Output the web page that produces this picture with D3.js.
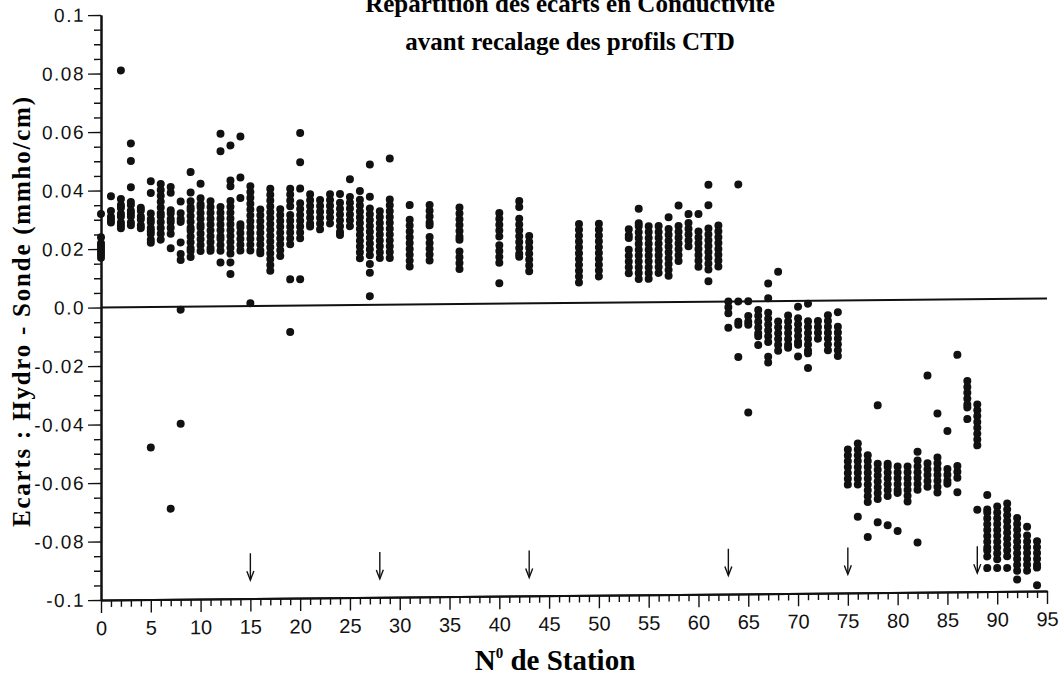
<!DOCTYPE html>
<html>
<head>
<meta charset="utf-8">
<script src="https://cdn.jsdelivr.net/npm/d3@7"></script>
<style>
  body { margin: 0; background: #fff; }
  .tick text { fill: #111; }
</style>
</head>
<body>
<div id="chart"></div>
<script>
// station numbers that have measurements
var stations = [0,1,2,3,4,5,6,7,8,9,10,11,12,13,14,15,16,17,18,19,20,21,22,23,24,25,26,27,28,29,
  31,33,36,40,42,43,48,50,53,54,55,56,57,58,59,60,61,62,63,64,65,66,67,68,69,70,71,72,73,74,
  75,76,77,78,79,80,81,82,83,84,85,86,87,88,89,90,91,92,93,94];

// ecarts hydro - sonde (mmho/cm), one list per station (same order as stations)
var ecarts = [
  [0.032,0.024,0.022,0.021,0.020,0.019,0.018,0.017],
  [0.038,0.033,0.031,0.030,0.029],
  [0.081,0.037,0.035,0.034,0.032,0.031,0.029,0.028,0.027],
  [0.056,0.050,0.041,0.036,0.035,0.033,0.032,0.031,0.029,0.028],
  [0.034,0.033,0.031,0.030,0.028,0.027],
  [0.043,0.039,0.032,0.030,0.029,0.027,0.026,0.025,0.023,0.022,-0.048],
  [0.042,0.040,0.038,0.036,0.034,0.032,0.031,0.029,0.027,0.025,0.023],
  [0.041,0.039,0.033,0.032,0.030,0.029,0.027,0.025,0.020,-0.069],
  [0.036,0.032,0.030,0.029,0.022,0.018,0.016,-0.001,-0.040],
  [0.046,0.039,0.036,0.034,0.033,0.031,0.029,0.027,0.026,0.024,0.022,0.020,0.019,0.017],
  [0.042,0.037,0.035,0.034,0.032,0.030,0.028,0.027,0.025,0.023,0.021,0.019],
  [0.036,0.034,0.032,0.030,0.028,0.026,0.024,0.022,0.020,0.019],
  [0.059,0.053,0.034,0.032,0.030,0.028,0.026,0.024,0.023,0.021,0.019,0.015],
  [0.055,0.043,0.041,0.036,0.034,0.032,0.030,0.028,0.026,0.024,0.022,0.020,0.018,0.015,0.011],
  [0.058,0.044,0.037,0.028,0.027,0.025,0.023,0.021,0.019],
  [0.041,0.039,0.037,0.035,0.033,0.031,0.029,0.027,0.025,0.023,0.021,0.019,0.001],
  [0.033,0.031,0.029,0.027,0.025,0.023,0.021,0.019,0.018],
  [0.040,0.038,0.036,0.034,0.032,0.030,0.028,0.026,0.024,0.022,0.020,0.018,0.016,0.014,0.012],
  [0.033,0.031,0.029,0.027,0.025,0.023,0.021,0.019,0.017],
  [0.040,0.038,0.036,0.034,0.031,0.029,0.027,0.025,0.023,0.021,0.009,-0.009],
  [0.059,0.049,0.040,0.035,0.033,0.031,0.029,0.027,0.025,0.023,0.009],
  [0.038,0.036,0.034,0.032,0.030,0.028,0.027],
  [0.036,0.034,0.032,0.030,0.028,0.026],
  [0.038,0.036,0.034,0.032,0.030,0.028],
  [0.038,0.035,0.033,0.031,0.029,0.027,0.025,0.024],
  [0.043,0.037,0.035,0.033,0.031,0.029,0.027],
  [0.039,0.036,0.034,0.032,0.030,0.028,0.026,0.024,0.022,0.020,0.018,0.016],
  [0.048,0.037,0.033,0.031,0.029,0.027,0.025,0.023,0.021,0.019,0.017,0.014,0.011,0.003],
  [0.032,0.030,0.028,0.026,0.024,0.022,0.020,0.018,0.016],
  [0.050,0.036,0.034,0.032,0.030,0.028,0.026,0.024,0.022,0.020,0.018,0.016],
  [0.034,0.029,0.027,0.025,0.023,0.021,0.019,0.017,0.015,0.013],
  [0.034,0.032,0.030,0.028,0.027,0.023,0.021,0.019,0.017,0.015],
  [0.033,0.031,0.029,0.027,0.025,0.023,0.022,0.018,0.016,0.014,0.012],
  [0.031,0.029,0.027,0.025,0.023,0.020,0.018,0.016,0.014,0.007],
  [0.035,0.033,0.029,0.027,0.025,0.023,0.021,0.019,0.017,0.016],
  [0.023,0.021,0.019,0.017,0.015,0.013,0.011],
  [0.027,0.025,0.023,0.021,0.019,0.017,0.015,0.013,0.011,0.009,0.007],
  [0.027,0.025,0.023,0.021,0.019,0.017,0.015,0.013,0.011,0.009],
  [0.025,0.023,0.022,0.018,0.016,0.014,0.012,0.010],
  [0.032,0.027,0.026,0.024,0.022,0.020,0.018,0.016,0.014,0.012,0.010,0.008],
  [0.026,0.024,0.022,0.020,0.018,0.016,0.014,0.012,0.010,0.008],
  [0.026,0.024,0.022,0.020,0.018,0.016,0.014,0.012,0.010],
  [0.029,0.025,0.023,0.021,0.019,0.017,0.015,0.013,0.011,0.009],
  [0.033,0.026,0.024,0.022,0.020,0.018,0.016,0.014],
  [0.030,0.027,0.025,0.023,0.021,0.019],
  [0.030,0.024,0.022,0.020,0.018,0.016,0.014,0.012],
  [0.040,0.033,0.025,0.023,0.021,0.019,0.017,0.015,0.013,0.011,0.007],
  [0.026,0.024,0.022,0.020,0.018,0.016,0.014,0.012],
  [0.000,-0.002,-0.004,-0.009],
  [0.040,0.000,-0.007,-0.008,-0.019],
  [0.000,-0.005,-0.007,-0.008,-0.038],
  [-0.003,-0.005,-0.007,-0.009,-0.011,-0.012,-0.015],
  [0.006,0.001,-0.004,-0.006,-0.008,-0.010,-0.012,-0.014,-0.019,-0.021],
  [0.010,-0.007,-0.009,-0.011,-0.013,-0.015,-0.017],
  [-0.005,-0.007,-0.009,-0.011,-0.013,-0.015,-0.016],
  [-0.002,-0.006,-0.008,-0.010,-0.012,-0.014,-0.015,-0.019],
  [-0.001,-0.007,-0.009,-0.011,-0.013,-0.015,-0.017,-0.018,-0.023],
  [-0.007,-0.009,-0.011,-0.013],
  [-0.005,-0.007,-0.009,-0.011,-0.013,-0.015,-0.017],
  [-0.004,-0.009,-0.011,-0.013,-0.015,-0.017,-0.019],
  [-0.051,-0.053,-0.055,-0.057,-0.059,-0.061,-0.063],
  [-0.049,-0.051,-0.053,-0.055,-0.057,-0.059,-0.061,-0.063,-0.074],
  [-0.053,-0.055,-0.057,-0.059,-0.061,-0.063,-0.065,-0.067,-0.069,-0.081],
  [-0.036,-0.056,-0.058,-0.060,-0.062,-0.064,-0.066,-0.068,-0.076],
  [-0.056,-0.057,-0.059,-0.061,-0.063,-0.065,-0.067,-0.077],
  [-0.057,-0.059,-0.061,-0.063,-0.065,-0.066,-0.079],
  [-0.057,-0.059,-0.061,-0.063,-0.065,-0.067,-0.069],
  [-0.052,-0.055,-0.057,-0.059,-0.061,-0.063,-0.065,-0.083],
  [-0.026,-0.056,-0.058,-0.060,-0.062,-0.064],
  [-0.039,-0.054,-0.056,-0.058,-0.060,-0.062,-0.064,-0.066],
  [-0.045,-0.058,-0.060,-0.062,-0.063],
  [-0.019,-0.057,-0.059,-0.061,-0.066],
  [-0.028,-0.030,-0.032,-0.034,-0.036,-0.037,-0.041],
  [-0.036,-0.038,-0.040,-0.042,-0.044,-0.046,-0.048,-0.050,-0.072],
  [-0.067,-0.072,-0.073,-0.075,-0.077,-0.079,-0.081,-0.083,-0.085,-0.086,-0.088,-0.092],
  [-0.071,-0.073,-0.075,-0.077,-0.079,-0.081,-0.083,-0.085,-0.087,-0.089,-0.092],
  [-0.070,-0.072,-0.074,-0.076,-0.078,-0.080,-0.082,-0.084,-0.086,-0.088,-0.092],
  [-0.075,-0.077,-0.079,-0.081,-0.083,-0.085,-0.087,-0.089,-0.091,-0.093,-0.096],
  [-0.078,-0.081,-0.083,-0.085,-0.087,-0.089,-0.091,-0.093],
  [-0.083,-0.085,-0.087,-0.089,-0.091,-0.092,-0.098]
];

// arrows marking stations along the bottom
var arrowStations = [15, 28, 43, 63, 75, 88];

// tick values + labels
var xTicks = [0,5,10,15,20,25,30,35,40,45,50,55,60,65,70,75,80,85,90,95];
var yTicks = [0.1,0.08,0.06,0.04,0.02,0,-0.02,-0.04,-0.06,-0.08,-0.1];
var yTickLabels = ['0.1','0.08','0.06','0.04','0.02','0.0','-0.02','-0.04','-0.06','-0.08','-0.1'];

var titleLines = ['Répartition des écarts en Conductivité', 'avant recalage des profils CTD'];

//set margin and sizes
var margin = {top:15, left:101};
var w = 946;
var h = 585;

var svg = d3.select('#chart')
    .append('svg')
    .attr('width', 1062)
    .attr('height', 678);

// scanned page is slightly tilted, skew the plot a little
var g = svg.append('g')
    .attr('transform', 'translate(' + margin.left + ',' + margin.top + ') skewY(-0.55)');

var x = d3.scaleLinear().domain([0, 95]).range([0, w]);
var y = d3.scaleLinear().domain([-0.1, 0.1]).range([h, 0]);

// minor ticks
var xMinor = d3.range(0, 96, 1).filter(function(d) { return d % 5 != 0; });
var yMinor = d3.range(-100, 101, 5).filter(function(d) { return d % 20 != 0; }).map(function(d) { return d / 1000; });

g.append('g')
    .attr('class', 'minor')
    .attr('transform', 'translate(0,' + h + ')')
    .call(d3.axisBottom(x).tickValues(xMinor).tickSize(7).tickSizeOuter(0).tickFormat(''));
g.append('g')
    .attr('class', 'minor')
    .call(d3.axisLeft(y).tickValues(yMinor).tickSize(7).tickSizeOuter(0).tickFormat(''));

// major axes
var xAx = g.append('g')
    .attr('id', 'x-ax')
    .attr('transform', 'translate(0,' + h + ')')
    .call(d3.axisBottom(x).tickValues(xTicks).tickSize(13).tickSizeOuter(0).tickPadding(8));
xAx.selectAll('text')
    .style('font-family', '"Liberation Sans Narrow", "Liberation Sans", Arial, sans-serif')
    .style('font-size', '20px');

var yAx = g.append('g')
    .attr('id', 'y-ax')
    .call(d3.axisLeft(y).tickValues(yTicks).tickSize(13).tickSizeOuter(0).tickPadding(3)
        .tickFormat(function(d, i) { return yTickLabels[i]; }));
yAx.selectAll('text')
    .style('font-family', '"Liberation Sans", Arial, sans-serif')
    .style('font-size', '19px')
    .style('letter-spacing', '1.5px');

g.selectAll('.domain').attr('stroke', '#111').attr('stroke-width', 2);
g.selectAll('.tick line').attr('stroke', '#111').attr('stroke-width', 1.4);

// zero line
g.append('line')
    .attr('x1', x(0)).attr('x2', x(95))
    .attr('y1', y(0)).attr('y2', y(0))
    .attr('stroke', '#111')
    .attr('stroke-width', 2);

// points
var pts = [];
stations.forEach(function(s, i) {
    ecarts[i].forEach(function(v) { pts.push({st: s, val: v}); });
});

g.selectAll('.pt')
    .data(pts)
    .enter()
    .append('circle')
        .attr('class', 'pt')
        .attr('cx', function(d) { return x(d.st); })
        .attr('cy', function(d) { return y(d.val); })
        .attr('r', 4)
        .attr('fill', '#111');

// arrows
var arr = g.selectAll('.arrow')
    .data(arrowStations)
    .enter()
    .append('g')
    .attr('class', 'arrow');
arr.append('line')
    .attr('x1', function(d) { return x(d); })
    .attr('x2', function(d) { return x(d); })
    .attr('y1', y(-0.0845))
    .attr('y2', y(-0.0935))
    .attr('stroke', '#111')
    .attr('stroke-width', 1.4);
arr.append('path')
    .attr('d', function(d) {
        var px = x(d), py = y(-0.0937);
        return 'M' + (px - 3.5) + ',' + (py - 9) + 'L' + px + ',' + py + 'L' + (px + 3.5) + ',' + (py - 9);
    })
    .attr('fill', 'none')
    .attr('stroke', '#111')
    .attr('stroke-width', 1.4);

// title
svg.selectAll('.title')
    .data(titleLines)
    .enter()
    .append('text')
    .attr('class', 'title')
    .attr('x', 570)
    .attr('y', function(d, i) { return 12 + i * 38; })
    .attr('text-anchor', 'middle')
    .style('font-family', '"Liberation Serif", "Times New Roman", serif')
    .style('font-weight', 'bold')
    .style('font-size', '25px')
    .text(function(d) { return d; });

// axis labels
svg.append('text')
    .attr('transform', 'translate(30,312) rotate(-90)')
    .attr('text-anchor', 'middle')
    .attr('textLength', 430)
    .attr('lengthAdjust', 'spacing')
    .style('font-family', '"Liberation Serif", "Times New Roman", serif')
    .style('font-weight', 'bold')
    .style('font-size', '25px')
    .text('Ecarts : Hydro - Sonde (mmho/cm)');

var xl = svg.append('text')
    .attr('x', 555)
    .attr('y', 670)
    .attr('text-anchor', 'middle')
    .style('font-family', '"Liberation Serif", "Times New Roman", serif')
    .style('font-weight', 'bold')
    .style('font-size', '29px');
xl.append('tspan').text('N');
xl.append('tspan').attr('dy', -12).style('font-size', '15px').text('0');
xl.append('tspan').attr('dy', 12).text(' de Station');
</script>
</body>
</html>
